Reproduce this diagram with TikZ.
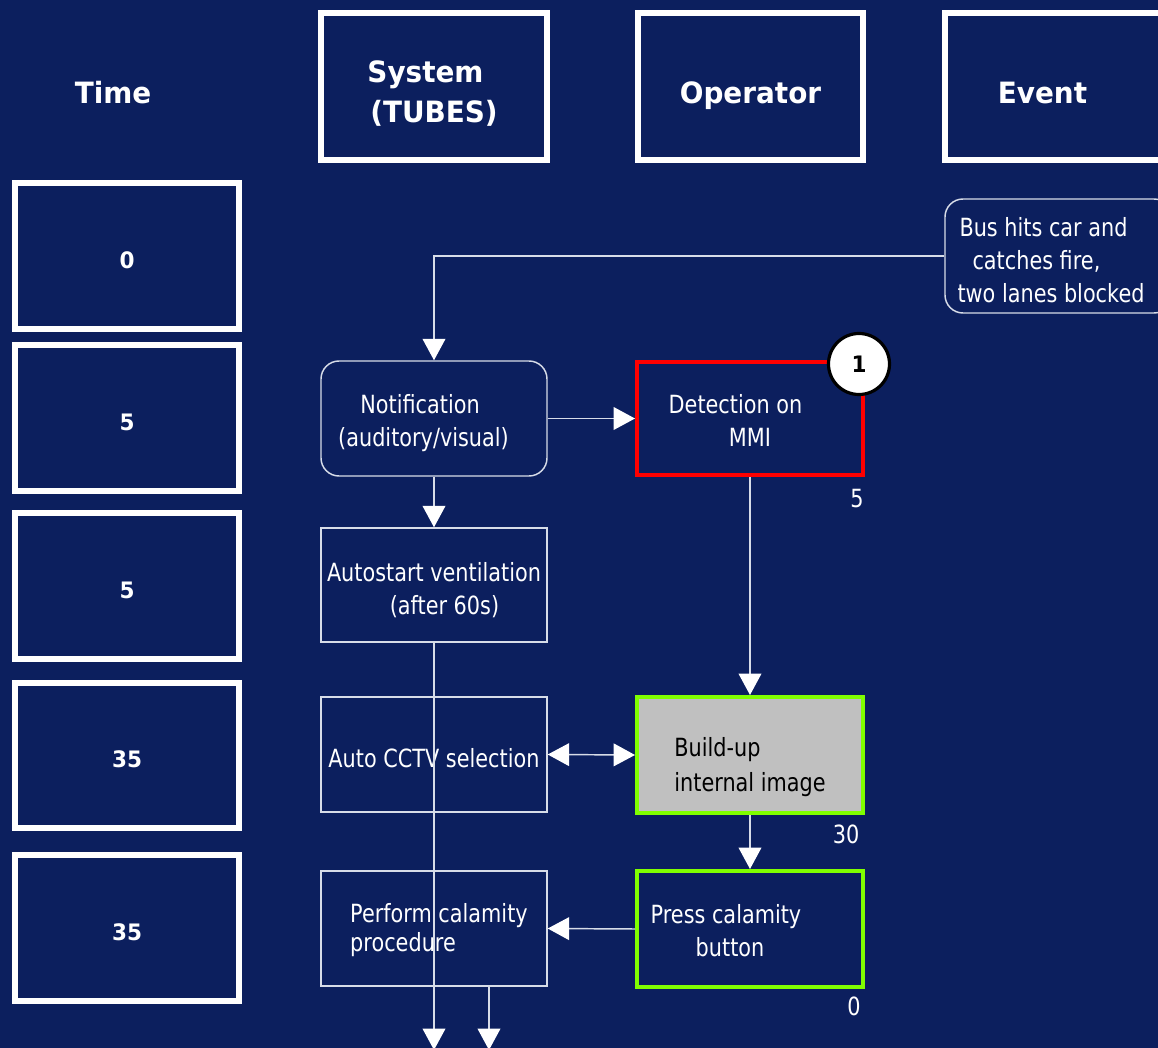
\documentclass[tikz,border=0pt]{standalone}
\usepackage{fontspec}
\setmainfont{DejaVu Sans}[FakeStretch=0.83]
\newfontfamily\hdrfont{DejaVu Sans}[FakeStretch=0.95]
\usetikzlibrary{arrows.meta}
\definecolor{navy}{RGB}{12,31,94}
\definecolor{linec}{RGB}{215,220,232}
\definecolor{redc}{RGB}{255,0,0}
\definecolor{greenc}{RGB}{128,255,0}
\definecolor{grayc}{RGB}{192,192,192}
\newlength\pxu \setlength\pxu{0.75pt}
\newcommand\dn[2]{\raisebox{-#1\pxu}[\height][\depth]{\begin{tabular}{@{}c@{}}#2\end{tabular}}}
\newcommand\dnl[2]{\raisebox{-#1\pxu}[\height][\depth]{\begin{tabular}{@{}l@{}}#2\end{tabular}}}
\begin{document}
\begin{tikzpicture}[x=0.75pt,y=-0.75pt,
  sz/.style 2 args={minimum width=#1*0.75pt, minimum height=#2*0.75pt},
  hdrtext/.style={text=white, font=\hdrfont\bfseries\fontsize{22}{30}\selectfont, inner sep=0pt},
  hdr/.style={hdrtext, draw=white, line width=4.5pt},
  tbox/.style={hdr, sz={224}{146}, font=\hdrfont\bfseries\fontsize{17}{20}\selectfont},
  box/.style={draw=linec, line width=1.1pt, text=white, font=\fontsize{18.8}{24.5}\selectfont, inner sep=0pt, sz={226}{114}},
  rbox/.style={box, rounded corners=13.5pt},
  redbox/.style={box, draw=redc, line width=3pt},
  greenbox/.style={box, draw=greenc, line width=3pt},
  num/.style={text=white, font=\fontsize{18.8}{20}\selectfont, inner sep=0pt},
  conn/.style={draw=linec, line width=1.1pt},
  arr/.style={conn, -{Triangle[width=17pt,length=16pt,color=white]}},
  darr/.style={conn, {Triangle[width=17pt,length=16pt,color=white]}-{Triangle[width=17pt,length=16pt,color=white]}}
]
\useasboundingbox (0,0) rectangle (1158,1048);
\clip (0,0) rectangle (1158,1048);
\fill[navy] (0,0) rectangle (1158,1048);

% headers
\node[hdrtext] (time) at (113,93) {\dn{3}{Time}};
\node[hdr, sz={226}{147}] (system) at (434,86.5) {\dn{8.5}{System\hspace*{17\pxu}\\(TUBES)}};
\node[hdr, sz={225}{147}] (operator) at (750.5,86.5) {\dn{9.5}{Operator}};
\node[hdr, sz={225}{147}] (event) at (1057.5,86.5) {\dn{9.5}{Event\hspace*{30\pxu}}};

% time boxes
\node[tbox] (t1) at (127,256) {\dn{6.7}{0}};
\node[tbox] (t2) at (127,418) {\dn{6.7}{5}};
\node[tbox] (t3) at (127,586) {\dn{6.7}{5}};
\node[tbox, sz={224}{145}] (t4) at (127,755.5) {\dn{6.7}{35}};
\node[tbox] (t5) at (127,928) {\dn{6.7}{35}};

% flow nodes
\node[rbox, sz={227}{114}, font=\fontsize{18.8}{24.4}\selectfont] (bus) at (1058.5,256)
  {\dnl{7}{\hspace*{2\pxu}Bus hits car and\\\hspace*{15\pxu}catches fire,\\two lanes blocked\hspace*{15\pxu}}};
\node[rbox, sz={226}{115}] (notif) at (434,418.5)
  {\dn{5.3}{Notification\hspace*{28\pxu}\\(auditory/visual)\hspace*{21\pxu}}};
\node[redbox, sz={226}{113}] (det) at (750,418.5) {\dn{5.3}{Detection on\hspace*{29\pxu}\\MMI}};
\node[circle, draw=black, fill=white, line width=2.4pt, minimum size=61*0.75pt, inner sep=0pt,
  font=\hdrfont\bfseries\fontsize{17}{20}\selectfont] (one) at (859,364) {1};
\node[box] (auto) at (434,585) {\dn{6.8}{Autostart ventilation\\\hspace*{21\pxu}(after 60s)}};
\node[box, sz={226}{115}] (cctv) at (434,754.5) {\dn{6}{Auto CCTV selection}};
\node[greenbox, sz={226}{116}, fill=grayc, text=black,
  font=\fontsize{18.8}{26.25}\selectfont] (build) at (750,755) {\dnl{11.5}{Build-up\\internal image}};
\node[greenbox, sz={226}{116}, font=\fontsize{18.8}{24.75}\selectfont] (press) at (750,929)
  {\dn{3.9}{Press calamity\hspace*{48\pxu}\\button\hspace*{40\pxu}}};
\node[box, sz={226}{115}, font=\fontsize{18.8}{22}\selectfont] (perf) at (434,928.5)
  {\dnl{2.5}{\hspace*{10\pxu}Perform calamity\\\hspace*{10\pxu}procedure}};

% duration labels
\node[num] (l5) at (857,499) {5};
\node[num] (l30) at (846,834) {30};
\node[num] (l0) at (854,1006) {0};

\coordinate (end1) at (434,1050);
\coordinate (end2) at (489,1050);

% connectors
\draw[arr] (bus.west) -| (notif.north);
\draw[arr] (notif.east) -- (det.west);
\draw[arr] (notif.south) -- (auto.north);
\draw[arr] (auto.south) -- (end1);
\draw[arr] (det.south) -- (build.north);
\draw[darr] (cctv.east) -- (build.west);
\draw[arr] (build.south) -- (press.north);
\draw[arr] (press.west) -- (perf.east);
\draw[arr] (end2 |- perf.south) -- (end2);
\end{tikzpicture}
\end{document}
